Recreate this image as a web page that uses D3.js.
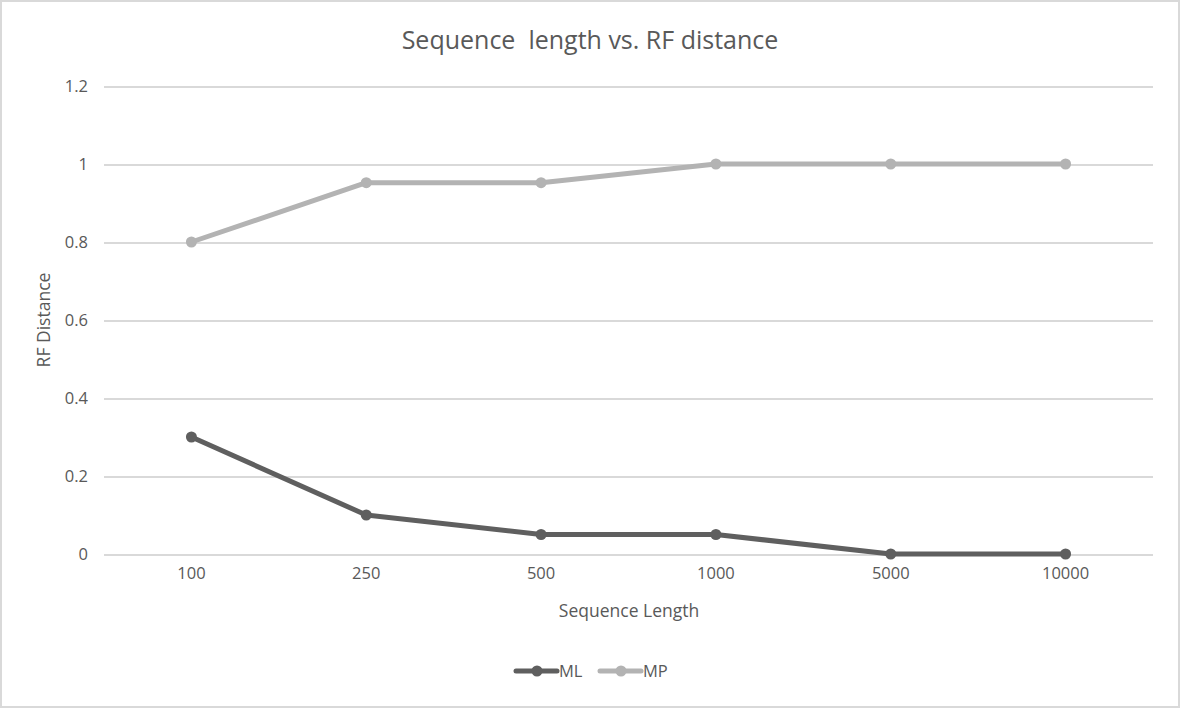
<!DOCTYPE html>
<head>
    <meta charset="utf-8">
    <script src="https://d3js.org/d3.v7.min.js"></script>
    <style>
        body { margin: 0; background: #fff; }
        text { font-family: "Open Sans", "Liberation Sans", sans-serif; fill: #595959; }
        .axis text { font-size: 16.5px; }
        .axis path, .axis line { display: none; }
        .grid line { stroke: #d9d9d9; stroke-width: 2px; shape-rendering: crispEdges; }
        .grid path { display: none; }
    </style>
</head>
<body>
<div id="block"></div>
<script>
    // data
    var categories = ["100", "250", "500", "1000", "5000", "10000"];
    var mlValues = [0.3, 0.1, 0.05, 0.05, 0, 0];
    var mpValues = [0.8, 0.952, 0.952, 1, 1, 1];
    var yTicks = [0, 0.2, 0.4, 0.6, 0.8, 1, 1.2];
    var seriesNames = ["ML", "MP"];
    var seriesColors = ["#5f5f5f", "#b3b3b3"];

    var width = 1181, height = 709;
    var margin = { top: 86, right: 28, bottom: 155, left: 104 };

    var svg = d3.select("#block").append("svg")
        .attr("width", width)
        .attr("height", height);

    // chart border
    svg.append("rect")
        .attr("x", 1).attr("y", 1)
        .attr("width", width - 3).attr("height", height - 3)
        .attr("fill", "#fff")
        .attr("stroke", "#d9d9d9")
        .attr("stroke-width", 2);

    var x = d3.scaleBand()
        .domain(categories)
        .range([margin.left, width - margin.right]);

    var y = d3.scaleLinear()
        .domain([0, 1.2])
        .range([height - margin.bottom, margin.top]);

    // gridlines
    svg.append("g")
        .attr("class", "grid")
        .attr("transform", "translate(" + margin.left + ",0)")
        .call(d3.axisLeft(y).tickValues(yTicks).tickSize(-(width - margin.right - margin.left)).tickFormat(""));

    // y axis labels
    svg.append("g")
        .attr("class", "axis")
        .attr("transform", "translate(" + (margin.left - 16) + ",0)")
        .call(d3.axisLeft(y).tickValues(yTicks).tickSize(0).tickPadding(0).tickFormat(d3.format("")));

    // x axis labels
    svg.append("g")
        .attr("class", "axis")
        .attr("transform", "translate(0," + (height - margin.bottom + 13) + ")")
        .call(d3.axisBottom(x).tickSize(0).tickPadding(0));

    // title and axis titles
    svg.append("text")
        .attr("x", 590).attr("y", 49)
        .attr("text-anchor", "middle")
        .style("font-size", "25px")
        .style("white-space", "pre")
        .text("Sequence  length vs. RF distance");

    svg.append("text")
        .attr("x", 629).attr("y", 617)
        .attr("text-anchor", "middle")
        .style("font-size", "17.5px")
        .text("Sequence Length");

    svg.append("text")
        .attr("transform", "translate(50,320) rotate(-90)")
        .attr("text-anchor", "middle")
        .style("font-size", "17.5px")
        .text("RF Distance");

    var line = d3.line()
        .x(function (d, i) { return x(categories[i]) + x.bandwidth() / 2; })
        .y(function (d) { return y(d); });

    [mlValues, mpValues].forEach(function (vals, s) {
        var g = svg.append("g");
        g.append("path")
            .datum(vals)
            .attr("fill", "none")
            .attr("stroke", seriesColors[s])
            .attr("stroke-width", 5)
            .attr("stroke-linejoin", "round")
            .attr("d", line);
        g.selectAll("circle")
            .data(vals)
            .enter().append("circle")
            .attr("cx", function (d, i) { return x(categories[i]) + x.bandwidth() / 2; })
            .attr("cy", function (d) { return y(d); })
            .attr("r", 5.5)
            .attr("fill", seriesColors[s]);
    });

    // legend
    var legendX = [516, 600];
    seriesNames.forEach(function (name, s) {
        var lg = svg.append("g").attr("transform", "translate(" + legendX[s] + ",671)");
        lg.append("line")
            .attr("x1", 0).attr("x2", 41)
            .attr("stroke", seriesColors[s])
            .attr("stroke-width", 5)
            .attr("stroke-linecap", "round");
        lg.append("circle")
            .attr("cx", 21).attr("r", 5.5)
            .attr("fill", seriesColors[s]);
        lg.append("text")
            .attr("x", 43).attr("y", 6)
            .style("font-size", "16.5px")
            .text(name);
    });
</script>
</body>
